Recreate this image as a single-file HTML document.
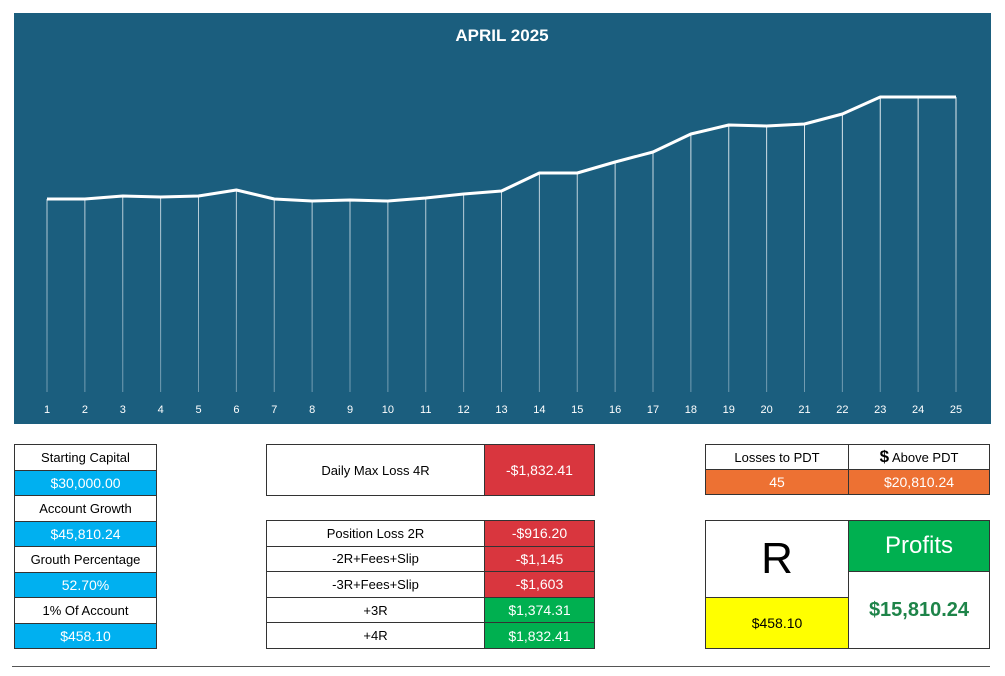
<!DOCTYPE html><html><head><style>
body{margin:0;width:1005px;height:676px;background:#fff;position:relative;font-family:"Liberation Sans",sans-serif;overflow:hidden}
.a{position:absolute;box-sizing:border-box}
table{position:absolute;border-collapse:collapse;font-size:13px}
td{border:1px solid #333;text-align:center;padding:0}
.b{background:#00b0f0;color:#fff;font-size:14px}
.r{background:#d9363e;color:#fff;font-size:14px}
.g{background:#00b050;color:#fff;font-size:14px}
.o{background:#ed7133;color:#fff;font-size:14px}
</style></head><body>
<div class="a" style="left:14px;top:13px;width:977px;height:411px;background:#1b5e7e"></div>
<svg class="a" style="left:0;top:0" width="1005" height="430">
<defs><linearGradient id="gr" gradientUnits="userSpaceOnUse" x1="0" y1="100" x2="0" y2="392"><stop offset="0" stop-color="#e6eef2"/><stop offset="1" stop-color="#6f9ab0"/></linearGradient></defs>
<text x="502" y="41" fill="#fff" font-weight="bold" font-size="17" text-anchor="middle" font-family="Liberation Sans">APRIL 2025</text>
<g id="v" stroke="url(#gr)" stroke-width="1"></g>
<polyline id="p" fill="none" stroke="#fff" stroke-width="3" stroke-linejoin="round"/>
<g id="t" fill="#fff" font-size="11" text-anchor="middle" font-family="Liberation Sans"></g>
</svg>
<script>
var ys=[199,199,196,197,196,190,199,201,200,201,198,194,191,173,173,162,152,134,125,126,124,114,97,97,97];
var v='',t='',p='';
ys.forEach(function(y,i){var x=47+i*(909/24);v+='<line x1="'+x+'" y1="'+y+'" x2="'+x+'" y2="392"/>';t+='<text x="'+x+'" y="413">'+(i+1)+'</text>';p+=x+','+y+' ';});
document.getElementById('v').innerHTML=v;document.getElementById('t').innerHTML=t;document.getElementById('p').setAttribute('points',p);
</script>
<table style="left:14px;top:444px;width:143px">
<tr style="height:25.5px"><td>Starting Capital</td></tr><tr style="height:25.5px"><td class="b">$30,000.00</td></tr>
<tr style="height:25.5px"><td>Account Growth</td></tr><tr style="height:25.5px"><td class="b">$45,810.24</td></tr>
<tr style="height:25.5px"><td>Grouth Percentage</td></tr><tr style="height:25.5px"><td class="b">52.70%</td></tr>
<tr style="height:25.5px"><td>1% Of Account</td></tr><tr style="height:25.5px"><td class="b">$458.10</td></tr></table>
<table style="left:266px;top:444px;width:329px"><tr style="height:51px"><td style="width:217px">Daily Max Loss 4R</td><td class="r">-$1,832.41</td></tr></table>
<table style="left:266px;top:520px;width:329px">
<tr style="height:25.6px"><td style="width:217px">Position Loss 2R</td><td class="r">-$916.20</td></tr>
<tr style="height:25.6px"><td>-2R+Fees+Slip</td><td class="r">-$1,145</td></tr>
<tr style="height:25.6px"><td>-3R+Fees+Slip</td><td class="r">-$1,603</td></tr>
<tr style="height:25.6px"><td>+3R</td><td class="g">$1,374.31</td></tr>
<tr style="height:25.6px"><td>+4R</td><td class="g">$1,832.41</td></tr></table>
<table style="left:705px;top:444px;width:285px">
<tr style="height:25px"><td style="width:142px">Losses to PDT</td><td><b style="font-size:17px">$</b> Above PDT</td></tr>
<tr style="height:25px"><td class="o">45</td><td class="o">$20,810.24</td></tr></table>
<table style="left:705px;top:520px;width:285px">
<tr style="height:51px"><td rowspan="2" style="width:142px;font-size:44px">R</td><td class="g" style="font-size:24px">Profits</td></tr>
<tr style="height:26px"><td rowspan="2" style="color:#1e8449;font-weight:bold;font-size:20px">$15,810.24</td></tr>
<tr style="height:51px"><td style="background:#ffff00;font-size:14px">$458.10</td></tr></table>
<div class="a" style="left:12px;top:666px;width:978px;height:1px;background:#555"></div>
</body></html>
